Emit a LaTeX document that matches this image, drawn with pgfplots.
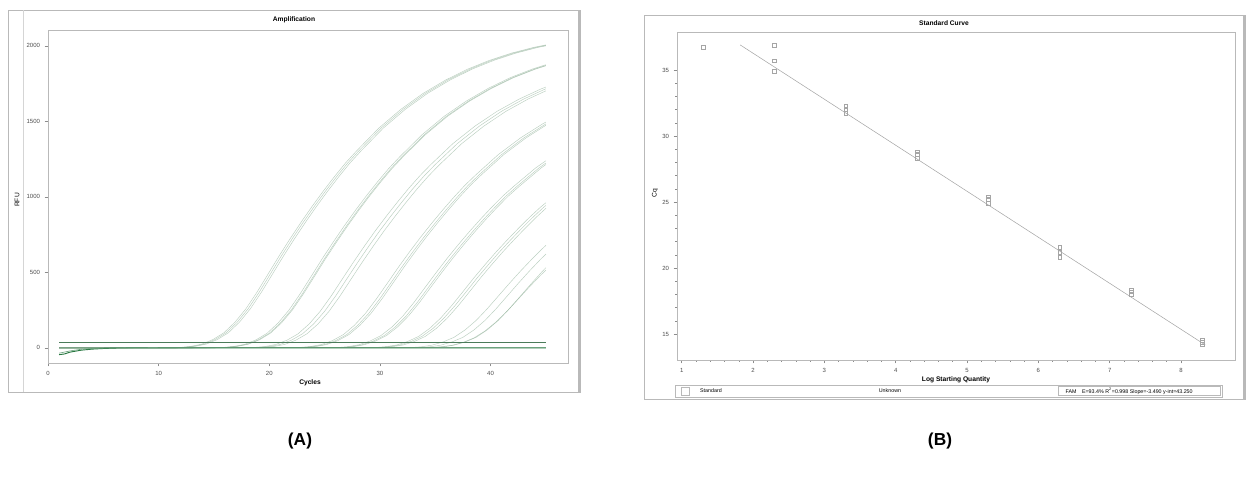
\documentclass[border=0pt]{standalone}
\usepackage{pgfplots}
\pgfplotsset{compat=1.18}
\usepackage{fontspec}
\setmainfont{Liberation Sans}
\definecolor{crv}{RGB}{120,160,130}
\definecolor{bas}{RGB}{40,120,65}
\definecolor{frm}{RGB}{185,185,185}
\definecolor{ptc}{RGB}{165,165,165}
\pgfplotsset{
  curve/.style={crv, opacity=0.5, line width=0.35pt},
  common/.style={anchor=south west, scale only axis, clip=true,
    axis line style={frm, line width=0.6pt},
    tick style={black!45, line width=0.4pt},
    major tick length=2.5pt, minor tick length=1.5pt,
    tick label style={font=\fontsize{4.5}{5}\selectfont, text=black!70},
    /pgf/number format/assume math mode=true,
    /pgf/number format/1000 sep={},
    tick align=outside, xtick pos=bottom, ytick pos=left},
}
\begin{document}
\begin{tikzpicture}
\path[use as bounding box] (0pt,0pt) rectangle (939.75pt,360.75pt);
\begin{scope}[x=0.75pt,y=0.75pt]
% ---- panel A frame
\draw[frm, line width=0.7pt] (8,89) rectangle (580,471);
\draw[frm!60, line width=0.4pt] (23,89) -- (23,471);
\draw[frm, line width=1.2pt] (579,89) -- (579,471);
\node[font=\fontsize{5}{6}\selectfont\bfseries] at (294,461) {Amplification};
\node[font=\fontsize{5}{6}\selectfont, rotate=90] at (17,281) {RFU};
\node[font=\fontsize{5}{6}\selectfont\bfseries] at (310,98) {Cycles};
% ---- panel B frame
\draw[frm, line width=0.7pt] (644,82) rectangle (1245,466);
\draw[frm, line width=1.2pt] (1244,82) -- (1244,466);
\node[font=\fontsize{5}{6}\selectfont\bfseries] at (944,458) {Standard Curve};
\node[font=\fontsize{5}{6}\selectfont, rotate=90] at (655,288) {Cq};
\node[font=\fontsize{5}{6}\selectfont\bfseries] at (956,101) {Log Starting Quantity};
\draw[frm, line width=0.5pt] (675,84) rectangle (1222,96);
\draw[frm, line width=0.4pt] (681,86) rectangle (689,94);
\node[font=\fontsize{4}{5}\selectfont] at (711,90) {Standard};
\node[font=\fontsize{4}{5}\selectfont] at (890,90) {Unknown};
\draw[frm, line width=0.4pt] (1058,85.5) rectangle (1220,94.5);
\node[font=\fontsize{4}{5}\selectfont, anchor=west] at (1061,90) {FAM\quad E=93.4\% R\textsuperscript{2}=0.998 Slope=-3.490 y-int=43.250};
\node[font=\fontsize{13}{15}\selectfont\bfseries] at (300,40) {(A)};
\node[font=\fontsize{13}{15}\selectfont\bfseries] at (940,40) {(B)};
\end{scope}
\begin{axis}[common, at={(36pt,88.5pt)}, width=390pt, height=249.75pt,
  xmin=0, xmax=47, ymin=-100, ymax=2105,
  xtick={0,10,20,30,40}, ytick={0,500,1000,1500,2000}]
% group 1
\addplot[curve] coordinates {(1,0)(12.3,3)(13.3,10)(14.3,25)(15.3,55)(16.3,100)(17.3,170)(18.3,260)(19.3,370)(20.3,490)(21.3,610)(22.3,725)(23.3,835)(24.3,940)(25.3,1040)(26.3,1135)(27.3,1225)(28.3,1305)(30.3,1455)(32.3,1580)(34.3,1685)(36.3,1772)(38.3,1845)(40.3,1904)(42.3,1952)(44.3,1990)(45,2000)};
\addplot[curve] coordinates {(1,0)(12.1,3)(13.1,10)(14.1,25)(15.1,55)(16.1,100)(17.1,170)(18.1,260)(19.1,370)(20.1,490)(21.1,610)(22.1,725)(23.1,835)(24.1,940)(25.1,1040)(26.1,1135)(27.1,1225)(28.1,1305)(30.1,1455)(32.1,1580)(34.1,1685)(36.1,1772)(38.1,1845)(40.1,1904)(42.1,1952)(44.1,1990)(45,2003)};
\addplot[curve] coordinates {(1,0)(11.9,3)(12.9,10)(13.9,25)(14.9,55)(15.9,100)(16.9,170)(17.9,260)(18.9,370)(19.9,490)(20.9,610)(21.9,725)(22.9,835)(23.9,940)(24.9,1040)(25.9,1135)(26.9,1225)(27.9,1305)(29.9,1455)(31.9,1580)(33.9,1685)(35.9,1772)(37.9,1845)(39.9,1904)(41.9,1952)(43.9,1990)(45,2006)};
% group 2
\addplot[curve] coordinates {(1,0)(16.1,3)(17.1,10)(18.1,24)(19.1,53)(20.1,97)(21.1,165)(22.1,252)(23.1,359)(24.1,475)(25.1,592)(26.1,703)(27.1,810)(28.1,912)(29.1,1009)(30.1,1101)(31.1,1188)(32.1,1266)(34.1,1411)(36.1,1533)(38.1,1634)(40.1,1719)(42.1,1790)(44.1,1847)(45,1868)};
\addplot[curve] coordinates {(1,0)(16,3)(17,10)(18,24)(19,53)(20,97)(21,165)(22,252)(23,359)(24,475)(25,592)(26,703)(27,810)(28,912)(29,1009)(30,1101)(31,1188)(32,1266)(34,1411)(36,1533)(38,1634)(40,1719)(42,1790)(44,1847)(45,1870)};
\addplot[curve] coordinates {(1,0)(15.8,3)(16.8,10)(17.8,24)(18.8,53)(19.8,97)(20.8,165)(21.8,252)(22.8,359)(23.8,475)(24.8,592)(25.8,703)(26.8,810)(27.8,912)(28.8,1009)(29.8,1101)(30.8,1188)(31.8,1266)(33.8,1411)(35.8,1533)(37.8,1634)(39.8,1719)(41.8,1790)(43.8,1847)(45,1875)};
% group 3
\addplot[curve] coordinates {(1,0)(19.4,3)(20.4,9)(21.4,23)(22.4,51)(23.4,93)(24.4,158)(25.4,242)(26.4,344)(27.4,456)(28.4,567)(29.4,674)(30.4,777)(31.4,874)(32.4,967)(33.4,1056)(34.4,1139)(35.4,1214)(37.4,1353)(39.4,1469)(41.4,1567)(43.4,1648)(45,1702)};
\addplot[curve] coordinates {(1,0)(19,3)(20,9)(21,23)(22,51)(23,93)(24,158)(25,242)(26,344)(27,456)(28,567)(29,674)(30,777)(31,874)(32,967)(33,1056)(34,1139)(35,1214)(37,1353)(39,1469)(41,1567)(43,1648)(45,1716)};
\addplot[curve] coordinates {(1,0)(18.6,3)(19.6,9)(20.6,23)(21.6,51)(22.6,93)(23.6,158)(24.6,242)(25.6,344)(26.6,456)(27.6,567)(28.6,674)(29.6,777)(30.6,874)(31.6,967)(32.6,1056)(33.6,1139)(34.6,1214)(36.6,1353)(38.6,1469)(40.6,1567)(42.6,1648)(44.6,1716)(45,1727)};
% group 4
\addplot[curve] coordinates {(1,0)(23.2,3)(24.2,9)(25.2,22)(26.2,48)(27.2,88)(28.2,150)(29.2,229)(30.2,326)(31.2,431)(32.2,537)(33.2,638)(34.2,735)(35.2,827)(36.2,915)(37.2,999)(38.2,1078)(39.2,1148)(41.2,1280)(43.2,1390)(45,1474)};
\addplot[curve] coordinates {(1,0)(23,3)(24,9)(25,22)(26,48)(27,88)(28,150)(29,229)(30,326)(31,431)(32,537)(33,638)(34,735)(35,827)(36,915)(37,999)(38,1078)(39,1148)(41,1280)(43,1390)(45,1483)};
\addplot[curve] coordinates {(1,0)(22.7,3)(23.7,9)(24.7,22)(25.7,48)(26.7,88)(27.7,150)(28.7,229)(29.7,326)(30.7,431)(31.7,537)(32.7,638)(33.7,735)(34.7,827)(35.7,915)(36.7,999)(37.7,1078)(38.7,1148)(40.7,1280)(42.7,1390)(44.7,1483)(45,1495)};
% group 5
\addplot[curve] coordinates {(1,0)(26.6,2)(27.6,8)(28.6,21)(29.6,45)(30.6,82)(31.6,139)(32.6,213)(33.6,303)(34.6,402)(35.6,500)(36.6,595)(37.6,685)(38.6,771)(39.6,853)(40.6,931)(41.6,1005)(42.6,1070)(44.6,1193)(45,1214)};
\addplot[curve] coordinates {(1,0)(26.4,2)(27.4,8)(28.4,21)(29.4,45)(30.4,82)(31.4,139)(32.4,213)(33.4,303)(34.4,402)(35.4,500)(36.4,595)(37.4,685)(38.4,771)(39.4,853)(40.4,931)(41.4,1005)(42.4,1070)(44.4,1193)(45,1224)};
\addplot[curve] coordinates {(1,0)(26.1,2)(27.1,8)(28.1,21)(29.1,45)(30.1,82)(31.1,139)(32.1,213)(33.1,303)(34.1,402)(35.1,500)(36.1,595)(37.1,685)(38.1,771)(39.1,853)(40.1,931)(41.1,1005)(42.1,1070)(44.1,1193)(45,1239)};
% group 6
\addplot[curve] coordinates {(1,0)(30.1,2)(31.1,8)(32.1,19)(33.1,42)(34.1,76)(35.1,129)(36.1,198)(37.1,281)(38.1,372)(39.1,464)(40.1,551)(41.1,635)(42.1,714)(43.1,790)(44.1,863)(45,924)};
\addplot[curve] coordinates {(1,0)(29.8,2)(30.8,8)(31.8,19)(32.8,42)(33.8,76)(34.8,129)(35.8,198)(36.8,281)(37.8,372)(38.8,464)(39.8,551)(40.8,635)(41.8,714)(42.8,790)(43.8,863)(44.8,931)(45,943)};
\addplot[curve] coordinates {(1,0)(29.5,2)(30.5,8)(31.5,19)(32.5,42)(33.5,76)(34.5,129)(35.5,198)(36.5,281)(37.5,372)(38.5,464)(39.5,551)(40.5,635)(41.5,714)(42.5,790)(43.5,863)(44.5,931)(45,961)};
% group 7
\addplot[curve] coordinates {(1,0)(34.7,2)(35.7,7)(36.7,18)(37.7,39)(38.7,70)(39.7,119)(40.7,182)(41.7,259)(42.7,343)(43.7,427)(44.7,508)(45,531)};
\addplot[curve] coordinates {(1,0)(33.5,2)(34.5,7)(35.5,18)(36.5,39)(37.5,70)(38.5,119)(39.5,182)(40.5,259)(41.5,343)(42.5,427)(43.5,508)(44.5,585)(45,621)};
\addplot[curve] coordinates {(1,0)(32.7,2)(33.7,7)(34.7,18)(35.7,39)(36.7,70)(37.7,119)(38.7,182)(39.7,259)(40.7,343)(41.7,427)(42.7,508)(43.7,585)(44.7,658)(45,679)};
% group 8
\addplot[curve] coordinates {(1,0)(34.5,2)(35.5,7)(36.5,17)(37.5,36)(38.5,66)(39.5,112)(40.5,172)(41.5,244)(42.5,323)(43.5,403)(44.5,479)(45,515)};
% baselines and threshold
\addplot[bas, line width=0.7pt] coordinates {(1,-45)(1.5,-40)(2,-28)(3,-15)(4,-8)(5,-4)(6,-1)(8,0)(45,0)};
\addplot[bas!70, line width=0.45pt] coordinates {(1,-35)(2,-20)(3,-9)(4,-4)(6,0)(10,3)(45,3)};
\addplot[bas!60!gray, line width=0.45pt] coordinates {(1,35)(45,35)};
\end{axis}
\begin{axis}[common, at={(507.75pt,90.75pt)}, width=418.5pt, height=246pt,
  xmin=0.934, xmax=8.757, ymin=13.03, ymax=37.88,
  xtick={1,2,3,4,5,6,7,8}, ytick={15,20,25,30,35}, minor tick num=4]
\addplot[black!35, line width=0.4pt] coordinates {(1.82,36.9)(8.34,14.17)};
\addplot[only marks, mark=square, mark size=1.4pt, ptc, line width=0.35pt] coordinates {
(1.301,36.7)
(2.301,36.9)(2.301,35.7)(2.301,34.9)
(3.301,32.3)(3.301,32.0)(3.301,31.7)
(4.301,28.8)(4.301,28.6)(4.301,28.3)
(5.301,25.4)(5.301,25.2)(5.301,24.9)
(6.301,21.6)(6.301,21.2)(6.301,20.8)
(7.301,18.3)(7.301,18.2)(7.301,18.0)
(8.301,14.5)(8.301,14.4)(8.301,14.2)};
\end{axis}
\end{tikzpicture}
\end{document}
